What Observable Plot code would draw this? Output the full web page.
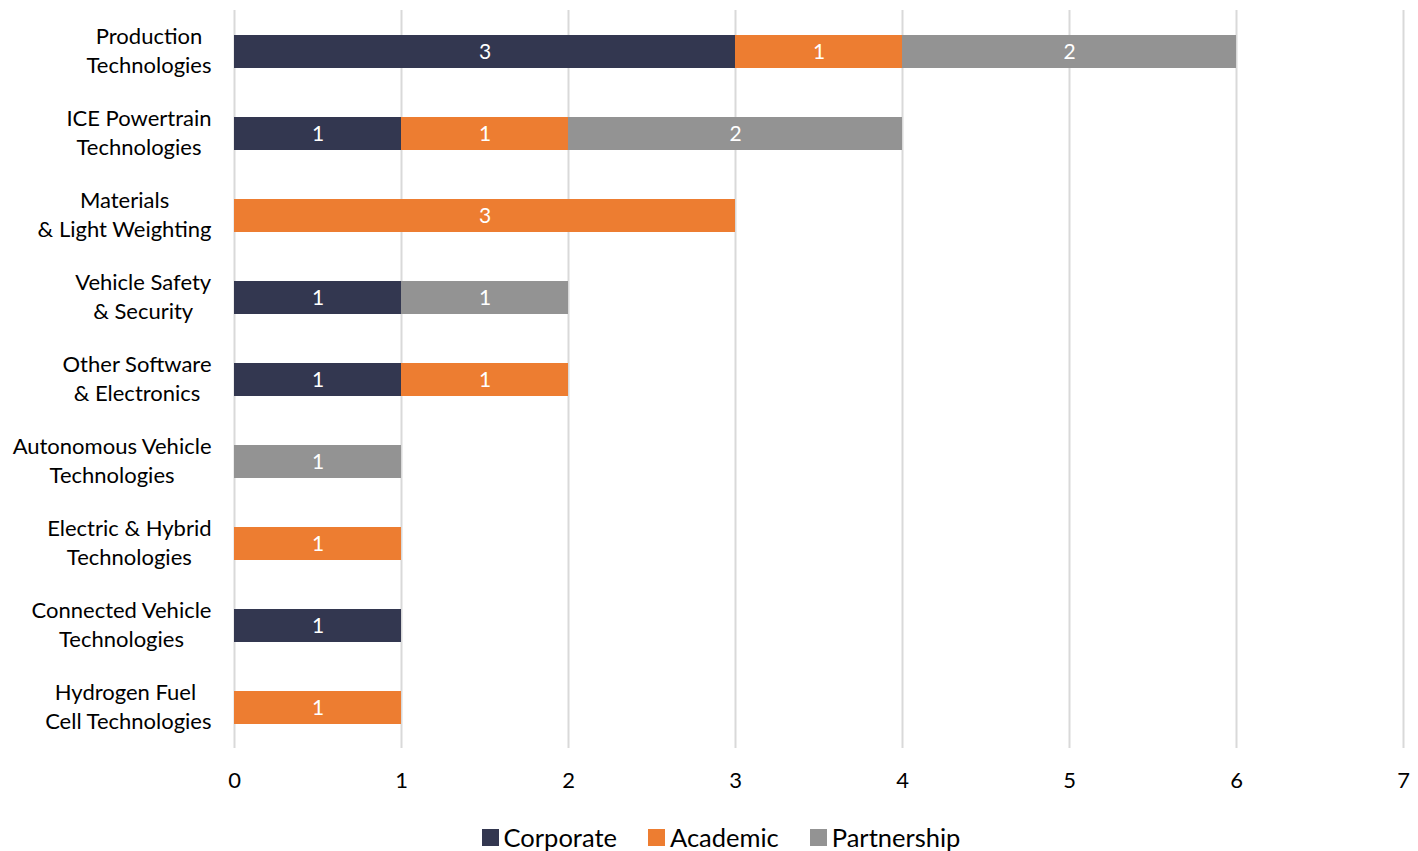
<!DOCTYPE html>
<html>
<head>
<meta charset="utf-8">
<script src="https://cdn.jsdelivr.net/npm/d3@7"></script>
<script src="https://cdn.jsdelivr.net/npm/@observablehq/plot@0.6"></script>
<style>
  body { margin: 0; background: #fff; font-family: Lato, "Open Sans", sans-serif; }
  #legend { display: flex; justify-content: center; gap: 31px; font-size: 25.5px; color: #000; margin-top: 22px; padding-left: 24px; }
  #legend span.item { display: flex; align-items: center; }
  #legend span.sw { display: inline-block; width: 17px; height: 17px; margin-right: 5px; }
</style>
</head>
<body>
<div id="chart"></div>
<div id="legend"></div>
<script>
const categories = [
  "Production\nTechnologies",
  "ICE Powertrain\nTechnologies",
  "Materials\n& Light Weighting",
  "Vehicle Safety\n& Security",
  "Other Software\n& Electronics",
  "Autonomous Vehicle\nTechnologies",
  "Electric & Hybrid\nTechnologies",
  "Connected Vehicle\nTechnologies",
  "Hydrogen Fuel \nCell Technologies"
];
const seriesNames = ["Corporate", "Academic", "Partnership"];
const corporate   = [3, 1, 0, 1, 1, 0, 0, 1, 0];
const academic    = [1, 1, 3, 0, 1, 0, 1, 0, 1];
const partnership = [2, 2, 0, 1, 0, 1, 0, 0, 0];
const colors = ["#333750", "#ED7D31", "#939393"];
const xTicks = [0, 1, 2, 3, 4, 5, 6, 7];

const seriesValues = [corporate, academic, partnership];
const data = [];
categories.forEach((c, i) => {
  seriesNames.forEach((s, j) => {
    const v = seriesValues[j][i];
    if (v > 0) data.push({category: c, series: s, value: v});
  });
});

const font = "Lato, 'Open Sans', sans-serif";
const chart = Plot.plot({
  width: 1418,
  height: 800,
  marginLeft: 234,
  marginRight: 15,
  marginTop: 10,
  marginBottom: 52,
  style: {fontFamily: font, fontSize: "22px", color: "#000", background: "#fff"},
  x: {domain: [0, 7], ticks: xTicks, tickFormat: "d", label: null},
  y: {domain: categories, label: null, paddingInner: 0.6, paddingOuter: 0.3},
  color: {domain: seriesNames, range: colors},
  marks: [
    Plot.gridX(xTicks, {stroke: "#d9d9d9", strokeOpacity: 1, strokeWidth: 2}),
    Plot.barX(data, Plot.stackX({y: "category", x: "value", fill: "series", order: seriesNames})),
    Plot.text(data, Plot.stackX({y: "category", x: "value", z: "series", order: seriesNames, text: d => String(d.value), fill: "white", fontSize: 21})),
    Plot.axisX(xTicks, {tickSize: 0, tickPadding: 24, fontSize: 22, tickFormat: "d", label: null}),
    Plot.axisY({tickSize: 0, tickPadding: 23, fontSize: 22, lineHeight: 1.33, dy: -3, label: null})
  ]
});
document.getElementById("chart").appendChild(chart);

// center-align multi-line category labels within their block (right edge preserved)
d3.select(chart).selectAll("g[aria-label='y-axis tick label'] text").each(function() {
  const w = this.getBBox().width;
  const t = d3.select(this);
  t.attr("text-anchor", "middle");
  const tr = t.attr("transform") || "";
  t.attr("transform", tr + ` translate(${-w / 2},0)`);
});

const legend = d3.select("#legend");
seriesNames.forEach((s, i) => {
  const item = legend.append("span").attr("class", "item");
  item.append("span").attr("class", "sw").style("background", colors[i]);
  item.append("span").text(s);
});
</script>
</body>
</html>
